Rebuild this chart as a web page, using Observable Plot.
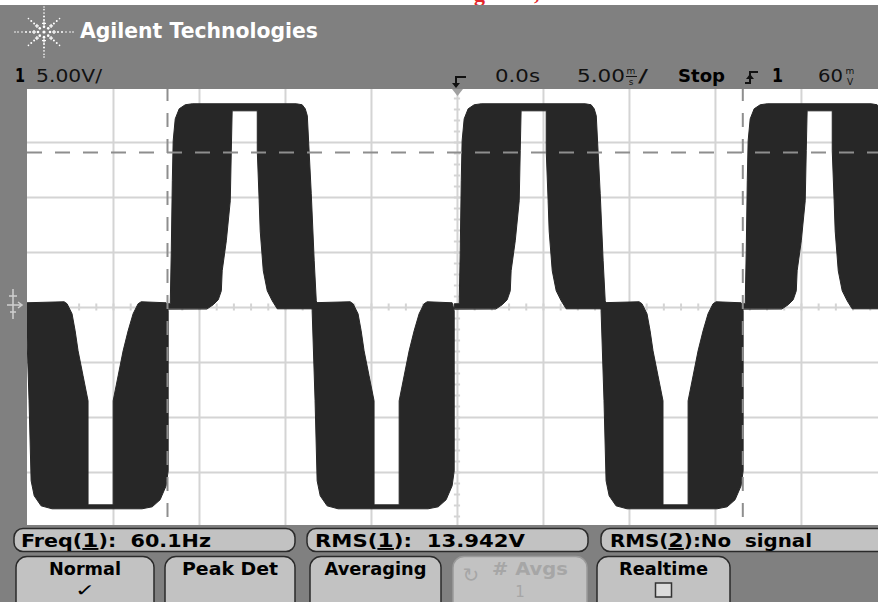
<!DOCTYPE html>
<html>
<head>
<meta charset="utf-8">
<script src="https://cdn.jsdelivr.net/npm/d3@7"></script>
<script src="https://cdn.jsdelivr.net/npm/@observablehq/plot@0.6"></script>
<style>
html, body { margin: 0; padding: 0; background: #808080; overflow: hidden; }
#wrap { position: relative; width: 878px; height: 602px; background: #808080; overflow: hidden; }
#plot { position: absolute; left: 27px; top: 87px; }
#chrome { position: absolute; left: 0; top: 0; }
#chrome text { font-family: "DejaVu Sans", sans-serif; }
</style>
</head>
<body>
<div id="wrap">
  <div id="plot"></div>
  <svg id="chrome" width="878" height="602"></svg>
</div>
<script>
// ---------------- data (time in ms, voltage in V) ----------------
const gridTimes = [-20, -15, -10, -5, 0, 5, 10, 15, 20];
const gridVolts = [-15, -10, -5, 0, 5, 10, 15];
const minorTimes = d3.range(-25, 25, 1);
const minorVolts = d3.range(-20, 21, 1);
const cursorTimes = [-16.86, 16.59];
const cursorVolts = [14.09];

// outline of one negative pulse (persistence envelope), relative to its start
const negPulseOutline = [
  [0.00, 0.43], [2.21, 0.52], [2.38, 0.34], [2.67, -0.57], [2.85, -2.12], [3.02, -3.94],
  [3.31, -6.21], [3.60, -8.48], [3.60, -17.94], [5.06, -17.94], [5.06, -8.48], [5.35, -6.21],
  [5.64, -3.94], [5.93, -2.12], [6.22, -0.57], [6.51, 0.34], [6.69, 0.52], [8.14, 0.43],
  [8.26, -0.30], [8.26, -14.85], [8.14, -16.21], [7.79, -17.48], [7.33, -18.12], [6.74, -18.30],
  [1.51, -18.30], [0.87, -18.03], [0.47, -17.12], [0.29, -15.75], [0.17, -8.48], [0.00, -0.30]
];
// outline of one positive pulse, relative to its start
const posPulseOutline = [
  [-0.29, -0.12], [-0.29, 0.34], [0.00, 0.34], [0.06, 5.15], [0.12, 11.52], [0.17, 15.15],
  [0.29, 17.15], [0.52, 18.06], [0.87, 18.43], [1.28, 18.52], [7.33, 18.52], [7.67, 18.43],
  [7.85, 18.06], [7.97, 17.43], [8.20, 10.34], [8.37, 4.25], [8.49, 0.61], [8.60, -0.12],
  [6.22, -0.12], [5.93, 0.61], [5.64, 1.52], [5.41, 3.34], [5.23, 6.97], [5.17, 9.70],
  [5.06, 14.25], [5.06, 17.88], [3.60, 17.88], [3.55, 14.25], [3.49, 9.70], [3.26, 6.06],
  [3.02, 3.34], [2.97, 1.52], [2.79, 0.70], [2.50, 0.25], [2.15, -0.12]
];
const negPulseStarts = [-25.08, -8.45, 8.35];
const posPulseStarts = [-16.70, 0.10, 16.73];

// screen texts
const brandText = "Agilent Technologies";
const channelLabel = ["1", "5.00V/"];
const timeLabels = ["0.0s", "5.00", "/", "Stop", "1", "60"];
const measurements = [
  ["Freq(", "1", "):  60.1Hz"],
  ["RMS(", "1", "):  13.942V"],
  ["RMS(", "2", "):No  signal"]
];
const softkeys = [
  {label: "Normal", sub: "\u2713", disabled: false},
  {label: "Peak Det", sub: "", disabled: false},
  {label: "Averaging", sub: "", disabled: false},
  {label: "#  Avgs", sub: "1", disabled: true},
  {label: "Realtime", sub: "box", disabled: false}
];

// ---------------- build trace table ----------------
const trace = [];
negPulseStarts.forEach((s, i) => negPulseOutline.forEach(([dt, v]) => trace.push({block: "neg" + i, t: s + dt, v})));
posPulseStarts.forEach((s, i) => posPulseOutline.forEach(([dt, v]) => trace.push({block: "pos" + i, t: s + dt, v})));

const gridColor = "#d4d4d4";
const chart = Plot.plot({
  width: 851,
  height: 440,
  marginTop: 0, marginRight: 0, marginBottom: 0, marginLeft: 0,
  x: {domain: [-25, 24.48], axis: null},
  y: {domain: [-20, 20], axis: null},
  style: {background: "#ffffff", overflow: "hidden"},
  marks: [
    Plot.ruleX(gridTimes, {stroke: gridColor, strokeWidth: 2}),
    Plot.ruleY(gridVolts, {stroke: gridColor, strokeWidth: 2}),
    Plot.ruleX(minorTimes, {x: d => d, y1: -0.32, y2: 0.32, stroke: gridColor, strokeWidth: 2}),
    Plot.ruleY(minorVolts, {y: d => d, x1: -0.18, x2: 0.18, stroke: gridColor, strokeWidth: 2}),
    Plot.line(trace, {x: "t", y: "v", z: "block", curve: "linear-closed",
      fill: "#272727", stroke: "#272727", strokeWidth: 1, clip: true}),
    Plot.ruleX(cursorTimes, {stroke: "#8e8e8e", strokeWidth: 2, strokeDasharray: "14,12"}),
    Plot.ruleY(cursorVolts, {stroke: "#8e8e8e", strokeWidth: 2, strokeDasharray: "15,13"})
  ]
});
document.getElementById("plot").appendChild(chart);

// ---------------- scope chrome ----------------
const svg = d3.select("#chrome");
function rect(x, y, w, h, fill, extra = {}) {
  const r = svg.append("rect").attr("x", x).attr("y", y).attr("width", w).attr("height", h).attr("fill", fill);
  for (const k in extra) r.attr(k, extra[k]);
  return r;
}
function text(x, y, s, o = {}) {
  const t = svg.append("text").attr("x", x).attr("y", y).text(s)
    .attr("font-size", o.size || 17).attr("fill", o.fill || "#000")
    .attr("font-weight", o.bold ? "bold" : "normal");
  if (o.len) t.attr("textLength", o.len).attr("lengthAdjust", "spacingAndGlyphs");
  if (o.anchor) t.attr("text-anchor", o.anchor);
  if (o.family) t.style("font-family", o.family);
  return t;
}

// white strip with clipped red caption fragments
rect(0, 0, 878, 5, "#ffffff");
text(474, 1, "g", {size: 22, fill: "#e3262b", bold: true, family: "Liberation Serif"});
text(534, 0, ",", {size: 22, fill: "#e3262b", bold: true, family: "Liberation Serif"});
// gray frame
rect(0, 5, 878, 84, "#808080");
rect(0, 89, 27, 436, "#808080");
rect(0, 525, 878, 77, "#808080");

// Agilent spark logo
(function logo() {
  const cx = 44, cy = 32;
  const g = svg.append("g").attr("fill", "#ffffff");
  for (let k = 0; k < 8; k++) {
    const a = k * Math.PI / 4;
    const dx = Math.cos(a), dy = Math.sin(a);
    const diag = k % 2 === 1;
    const steps = diag ? [6, 10, 14, 18, 22] : [6, 10, 14, 18, 22, 26, 29];
    steps.forEach((r, i) => {
      const x = cx + dx * r * 1.0, y = cy + dy * r * 0.86;
      const rad = i < 2 ? 1.3 : (i < 4 ? 1.0 : 0.8);
      if (i === 1) {
        g.append("rect").attr("x", x - 2).attr("y", y - 0.6).attr("width", 4).attr("height", 1.2);
        g.append("rect").attr("x", x - 0.6).attr("y", y - 2).attr("width", 1.2).attr("height", 4);
      } else {
        g.append("circle").attr("cx", x).attr("cy", y).attr("r", rad);
      }
    });
  }
  g.append("circle").attr("cx", cx).attr("cy", cy).attr("r", 1.6);
})();
text(80, 38, brandText, {size: 21, bold: true, fill: "#ffffff", len: 238});

// status line
text(15, 82, channelLabel[0], {size: 20, bold: true, len: 10});
text(36, 82, channelLabel[1], {size: 18, fill: "#111", len: 66});
// trigger position marker
svg.append("path").attr("d", "M466,77 H456 V84").attr("stroke", "#111").attr("stroke-width", 2).attr("fill", "none");
svg.append("path").attr("d", "M452,83 L456,88 L460,83 Z").attr("fill", "#111");
svg.append("path").attr("d", "M452,89 L463,89 L457.5,96 Z").attr("fill", "#a0a0a0");
text(495, 82, timeLabels[0], {size: 18, fill: "#111", len: 45});
text(577, 82, timeLabels[1], {size: 18, fill: "#111", len: 48});
text(631, 73.5, "m", {size: 9, fill: "#111", anchor: "middle"});
svg.append("line").attr("x1", 626).attr("x2", 637).attr("y1", 76.5).attr("y2", 76.5).attr("stroke", "#111").attr("stroke-width", 1);
text(631, 85, "s", {size: 9, fill: "#111", anchor: "middle"});
text(638, 82, timeLabels[2], {size: 18, fill: "#111", len: 10});
text(678, 82, timeLabels[3], {size: 18, bold: true, len: 47});
svg.append("path").attr("d", "M745,83 H750 V72 H758").attr("stroke", "#111").attr("stroke-width", 2).attr("fill", "none");
svg.append("path").attr("d", "M746,79 L750,74 L754,79 Z").attr("fill", "#111");
text(772, 82, timeLabels[4], {size: 20, bold: true, len: 11});
text(818, 82, timeLabels[5], {size: 18, fill: "#111", len: 25});
text(850, 73.5, "m", {size: 9, fill: "#111", anchor: "middle"});
text(850, 85, "V", {size: 9, fill: "#111", anchor: "middle"});

// ground marker on the left
const gm = svg.append("g").attr("stroke", "#cfcfcf").attr("stroke-width", 1.5).attr("fill", "none");
gm.append("path").attr("d", "M13,289 V319 M9,296 H17 M7,305 H21 M10,312 H16 M18,302 L22,305 L18,308");

// measurement boxes
const boxX = [14, 307, 601], boxW = [281, 281, 290];
const textX = [21, 315, 610], textW = [190, 210, 202];
measurements.forEach((m, i) => {
  rect(boxX[i], 528.5, boxW[i], 23, "#c2c2c2", {rx: 9, stroke: "#2a2a2a", "stroke-width": 1.5});
  const t = svg.append("text").attr("x", textX[i]).attr("y", 547).attr("font-size", 17)
    .attr("font-weight", "bold").attr("fill", "#000").attr("xml:space", "preserve")
    .attr("textLength", textW[i]).attr("lengthAdjust", "spacingAndGlyphs");
  t.append("tspan").text(m[0]);
  t.append("tspan").text(m[1]).attr("font-size", 19).attr("text-decoration", "underline");
  t.append("tspan").text(m[2]);
});

// softkeys
const keyX = [16, 165, 310, 453, 597], keyW = [138, 130, 131, 134, 133];
const labW = [72, 96, 102, 76, 89];
softkeys.forEach((k, i) => {
  rect(keyX[i], 556.5, keyW[i], 60, "#c2c2c2", {rx: 11, stroke: k.disabled ? "#9a9a9a" : "#2a2a2a", "stroke-width": 1.5});
  const cx = keyX[i] + keyW[i] / 2 + (k.disabled ? 10 : 0);
  const col = k.disabled ? "#a6a6a6" : "#000";
  text(cx, 575, k.label, {size: 17, bold: true, fill: col, anchor: "middle", len: labW[i]});
  if (k.sub === "box") {
    rect(cx - 8, 583, 16, 14, "#dcdcdc", {stroke: "#333", "stroke-width": 1.5});
  } else if (k.sub) {
    if (k.disabled) text(cx - 10, 597, k.sub, {size: 15, fill: col, anchor: "middle"});
    else text(cx, 596, k.sub, {size: 17, fill: col, anchor: "middle", len: 20});
  }
  if (k.disabled) text(keyX[i] + 18, 582, "\u21bb", {size: 20, fill: "#a6a6a6", anchor: "middle"});
});
</script>
</body>
</html>
